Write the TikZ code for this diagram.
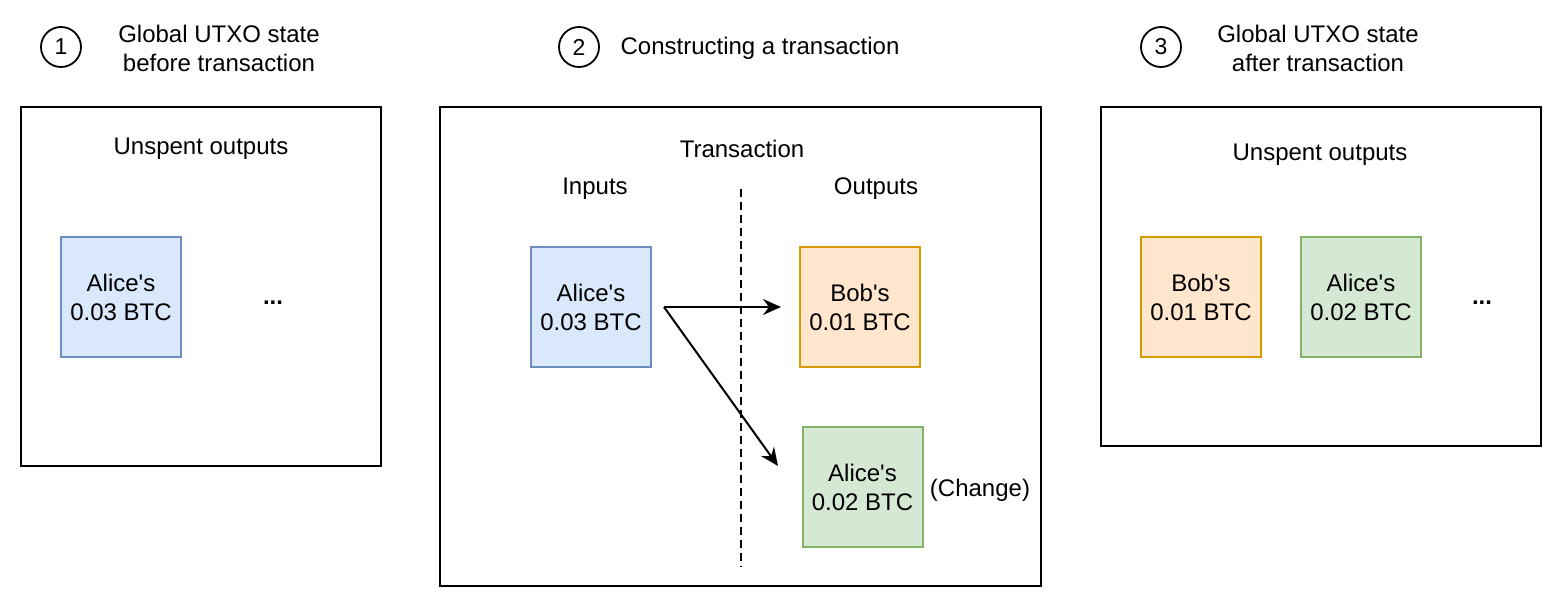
\documentclass[tikz,border=0pt]{standalone}
\usepackage{fontspec}
\setmainfont{Liberation Sans}
\usetikzlibrary{arrows.meta,calc}
\definecolor{bluefill}{HTML}{DAE8FC}
\definecolor{bluedraw}{HTML}{6C8EBF}
\definecolor{orangefill}{HTML}{FFE6CC}
\definecolor{orangedraw}{HTML}{D79B00}
\definecolor{greenfill}{HTML}{D5E8D4}
\definecolor{greendraw}{HTML}{82B366}
\newcommand{\apos}{\textquotesingle}
\tikzset{
  txt/.style={font=\fontsize{24}{29}\selectfont, align=center, inner sep=0pt},
  frame/.style={draw=black, line width=2pt, fill=none},
  coin/.style={txt, draw, line width=2pt, minimum width=120pt, minimum height=120pt},
  bluecoin/.style={coin, fill=bluefill, draw=bluedraw},
  orangecoin/.style={coin, fill=orangefill, draw=orangedraw},
  greencoin/.style={coin, fill=greenfill, draw=greendraw},
  stepnum/.style={circle, draw, line width=1.8pt, minimum size=40pt, inner sep=0pt, font=\fontsize{23}{28}\selectfont},
  dots/.style={txt, font=\fontsize{24}{29}\selectfont\bfseries},
  arr/.style={line width=2pt, -{Stealth[length=18pt,width=16pt,inset=6pt]}},
}
\begin{document}
\begin{tikzpicture}[x=1pt,y=-1pt]
\useasboundingbox (0,0) rectangle (1562,608);
% headers
\node[stepnum] (n1) at (61,47) {1};
\node[txt] (t1) at (219,48) {Global UTXO state\\before transaction};
\node[stepnum] (n2) at (579,47) {2};
\node[txt] (t2) at (760,48) {Constructing a transaction};
\node[stepnum] (n3) at (1161,47) {3};
\node[txt] (t3) at (1318,48) {Global UTXO state\\after transaction};
% frames
\node[frame, minimum width=360pt, minimum height=359pt, inner sep=0pt] (f1) at (201,286.5) {};
\node[frame, minimum width=601pt, minimum height=479pt, inner sep=0pt] (f2) at (740.5,346.5) {};
\node[frame, minimum width=440pt, minimum height=339pt, inner sep=0pt] (f3) at (1321,276.5) {};
% box 1
\node[txt] (u1) at (201,149) {Unspent outputs};
\node[bluecoin] (a1) at (121,297) {Alice\apos s\\0.03 BTC};
\node[dots] (d1) at (273,303) {...};
% box 2
\node[txt] (tx) at (742,149) {Transaction};
\node[txt] (in) at (595,189) {Inputs};
\node[txt] (out) at (876,189) {Outputs};
\coordinate (dtop) at (741,189);
\coordinate (dbot) at (741,567);
\draw[line width=2pt, dash pattern=on 8pt off 5pt] (dtop) -- (dbot);
\node[bluecoin] (ain) at (591,307) {Alice\apos s\\0.03 BTC};
\node[orangecoin] (bob) at (860,307) {Bob\apos s\\0.01 BTC};
\node[greencoin] (chg) at (862.5,487) {Alice\apos s\\0.02 BTC};
\node[txt] (chl) at (980,490) {(Change)};
\coordinate (fork) at ($(ain.east)+(12,0)$);
\coordinate (chgin) at (778,466);
\draw[arr, shorten >=18pt] (fork) -- (bob.west);
\draw[arr] (fork) -- (chgin);
% box 3
\node[txt] (u3) at (1320,155) {Unspent outputs};
\node[orangecoin] (b3) at (1201,297) {Bob\apos s\\0.01 BTC};
\node[greencoin] (a3) at (1361,297) {Alice\apos s\\0.02 BTC};
\node[dots] (d3) at (1482,303) {...};
\end{tikzpicture}
\end{document}
